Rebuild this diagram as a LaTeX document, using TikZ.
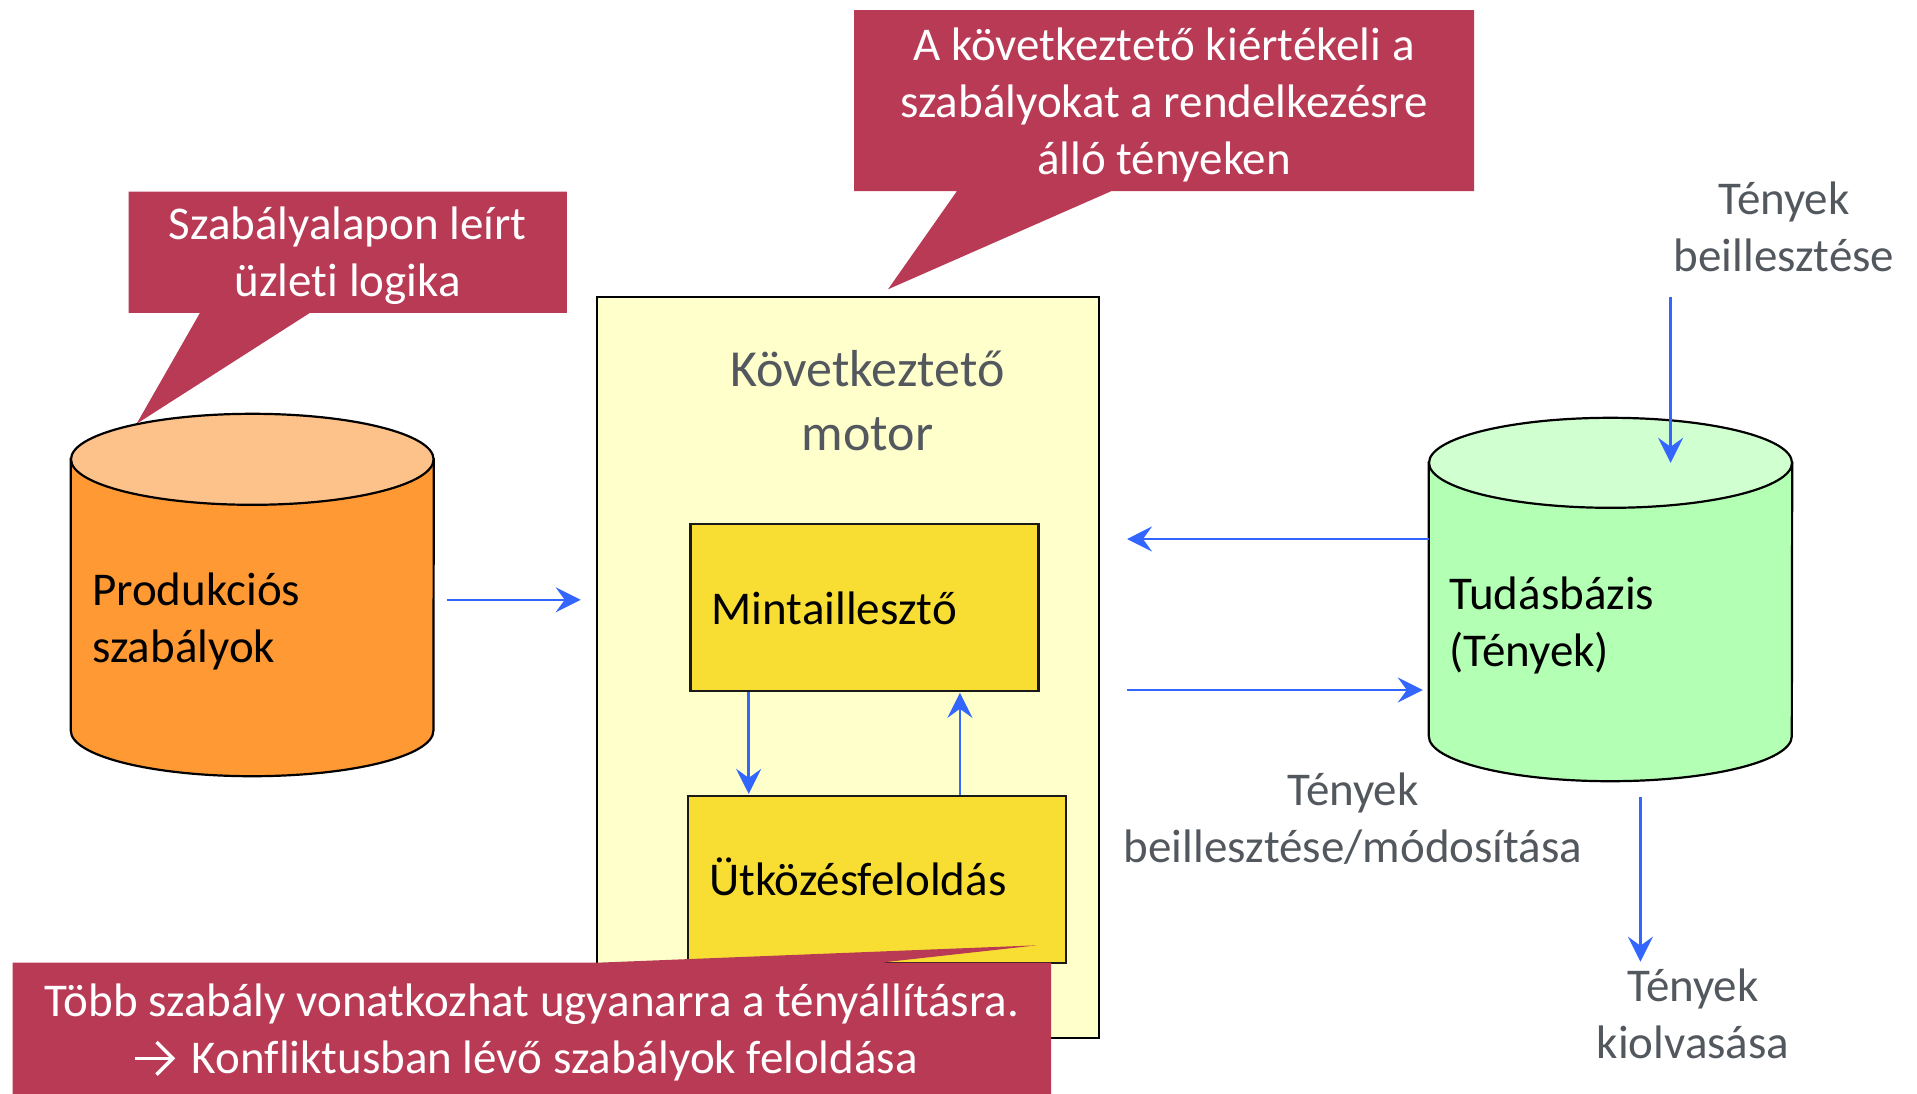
\documentclass[tikz,border=0pt]{standalone}
\usepackage{fontspec}
\setmainfont{Carlito}[Ligatures=NoCommon]
\usetikzlibrary{arrows.meta}

\definecolor{callred}{RGB}{184,58,85}
\definecolor{enginefill}{RGB}{255,255,204}
\definecolor{stagefill}{RGB}{248,222,50}
\definecolor{prodbody}{RGB}{255,153,51}
\definecolor{prodtop}{RGB}{253,194,137}
\definecolor{kbbody}{RGB}{179,255,179}
\definecolor{kbtop}{RGB}{208,255,208}
\definecolor{flowblue}{RGB}{51,102,255}
\definecolor{labelgray}{RGB}{82,88,94}

% multi-line text whose reference point is the first baseline
\newcommand\rows[2][c]{\begin{tabular}[t]{@{}#1@{}}#2\end{tabular}}

\begin{document}
\begin{tikzpicture}[x=1pt,y=-1pt,
  txt/.style={inner sep=0pt, anchor=base, font=\fontsize{47}{57}\selectfont},
  txtleft/.style={txt, anchor=base west},
  calltext/.style={txt, text=white},
  graytext/.style={txt, text=labelgray},
  callout/.style={fill=callred},
  enginebox/.style={draw=black, line width=2pt, fill=enginefill, inner sep=0pt},
  stagebox/.style={draw=black!90, line width=2.2pt, fill=stagefill, inner sep=0pt},
  cylbody/.style={inner sep=0pt},
  cylline/.style={draw=black, line width=2.2pt},
  flow/.style={draw=flowblue, line width=2.6pt,
    -{Stealth[length=25pt, width=25pt, inset=9pt]}},
  glyph/.style={draw=white, line width=3.4pt, line cap=butt, line join=miter},
]
\useasboundingbox (0,0) rectangle (1917,1093);

% ---------- inference engine ----------
\node[enginebox, minimum width=501.8pt, minimum height=741.3pt] (engine) at (848.1,667.35) {};
\node[txt, text=labelgray, font=\fontsize{52}{63.3}\selectfont] (enginelabel) at (867.5,386.7)
  {\rows{Következtető\\motor}};

\node[stagebox, minimum width=347.9pt, minimum height=166.7pt] (mint) at (864.45,607.35) {};
\node[txtleft] (minttext) at (711.5,624) {Mintaillesztő};
\node[stagebox, minimum width=377.8pt, minimum height=166.7pt] (utk) at (876.9,879.35) {};
\node[txtleft] (utktext) at (709,895) {Ütközésfeloldás};

\draw[flow] ([xshift=-115.75pt]mint.south) -- ([xshift=-128.2pt,yshift=1pt]utk.north);
\draw[flow] ([xshift=83pt]utk.north) -- ([xshift=95.45pt,yshift=-1pt]mint.south);

% ---------- callout: evaluation of rules ----------
\path[callout] (854,10) -- (1474,10) -- (1474,191) -- (1111.6,191) -- (888,289.3)
  -- (957,191) -- (854,191) -- cycle;
\node[calltext] (evaltext) at (1164,60)
  {\rows{A következtető kiértékeli a\\szabályokat a rendelkezésre\\álló tényeken}};

% ---------- callout: conflict resolution ----------
\path[callout] (12.6,962.7) -- (597,962.7) -- (1036.7,945.3) -- (880,962.7)
  -- (1051,962.7) -- (1051,1100) -- (12.6,1100) -- cycle;
\node[calltext] (conflicttext) at (532,1016.7)
  {Több szabály vonatkozhat ugyanarra a tényállításra.};
\node[calltext, anchor=base west] (resolvetext) at (191.7,1073)
  {Konfliktusban lévő szabályok feloldása};
% arrow sign in front of the second line
\draw[glyph] (135,1058.3) -- (171.5,1058.3);
\draw[glyph] (156.5,1042) -- (172.8,1058.3) -- (156.5,1074.6);

% ---------- production rules (cylinder) ----------
\path[callout] (128.6,191.5) -- (566.8,191.5) -- (566.8,312.8) -- (310,312.8)
  -- (136.6,423.8) -- (200,312.8) -- (128.6,312.8) -- cycle;
\node[calltext] (logictext) at (347.7,239.3) {\rows{Szabályalapon leírt\\üzleti logika}};

\node[cylbody, minimum width=362.6pt, minimum height=362pt] (prod) at (252.3,595) {};
\filldraw[cylline, fill=prodbody] ([yshift=-45.5pt]prod.north west)
  -- ([yshift=45.5pt]prod.south west)
  arc[start angle=180, end angle=360, x radius=181.3pt, y radius=45.5pt]
  -- ([yshift=-45.5pt]prod.north east) -- cycle;
\filldraw[cylline, fill=prodtop] ([yshift=-45.5pt]prod.north)
  ellipse[x radius=181.3pt, y radius=45.5pt];
\node[txtleft] (prodtext) at (92,605.6) {\rows[l]{Produkciós\\szabályok}};

% ---------- knowledge base (cylinder) ----------
\node[cylbody, minimum width=363pt, minimum height=363pt] (kb) at (1610.5,599.5) {};
\filldraw[cylline, fill=kbbody] ([yshift=-45pt]kb.north west)
  -- ([yshift=45pt]kb.south west)
  arc[start angle=180, end angle=360, x radius=181.5pt, y radius=45pt]
  -- ([yshift=-45pt]kb.north east) -- cycle;
\filldraw[cylline, fill=kbtop] ([yshift=-45pt]kb.north)
  ellipse[x radius=181.5pt, y radius=45pt];
\node[txtleft] (kbtext) at (1449,609.7) {\rows[l]{Tudásbázis\\(Tények)}};

% ---------- connectors ----------
\draw[flow] ([xshift=13pt,yshift=-4.8pt]prod.east) -- ([xshift=-15.5pt,yshift=67.55pt]engine.west);
\draw[flow] ([yshift=60.5pt]kb.west) -- ([xshift=27pt,yshift=128.35pt]engine.east);
\draw[flow] ([xshift=27pt,yshift=-22.65pt]engine.east) -- ([xshift=-6pt,yshift=-90.5pt]kb.west);

\node[graytext] (inslabel) at (1784,214) {\rows{Tények\\beillesztése}};
\coordinate (insstart) at (1670.6,297);
\draw[flow] (insstart) -- ([xshift=60.1pt,yshift=-45pt]kb.north);

\node[graytext] (modlabel) at (1353,805) {\rows{Tények\\beillesztése/módosítása}};

\node[graytext] (readlabel) at (1693,1001.7) {\rows{Tények\\kiolvasása}};
\coordinate (readend) at (1640.4,961.7);
\draw[flow] ([xshift=29.9pt,yshift=-15.7pt]kb.south) -- (readend);

\end{tikzpicture}
\end{document}
